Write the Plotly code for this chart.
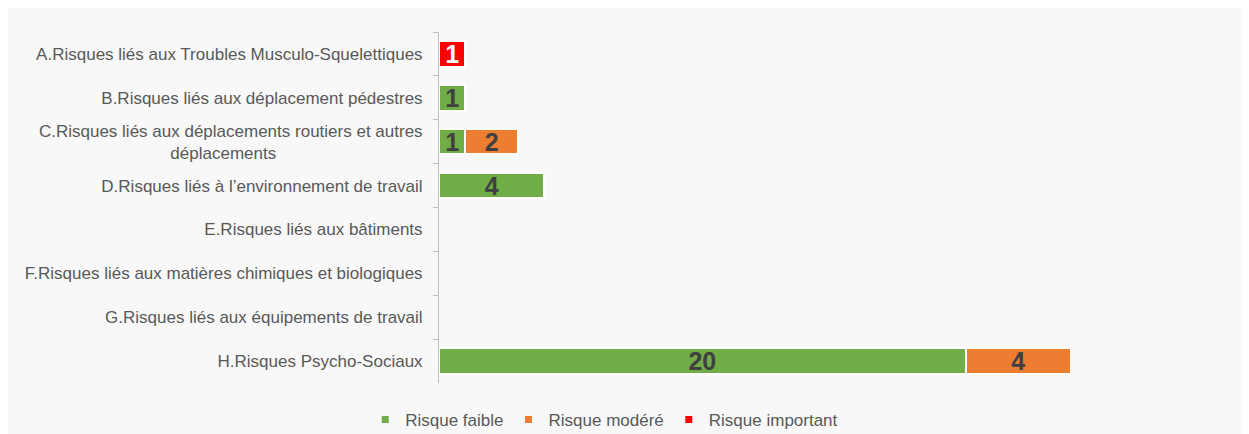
import plotly.graph_objects as go

NBSP = "\u00a0"
categories = [
    "A.Risques liés aux Troubles Musculo-Squelettiques",
    "B.Risques liés aux déplacement pédestres",
    "C.Risques liés aux déplacements routiers et autres<br>déplacements" + NBSP * 31,
    "D.Risques liés à l’environnement de travail",
    "E.Risques liés aux bâtiments",
    "F.Risques liés aux matières chimiques et biologiques",
    "G.Risques liés aux équipements de travail",
    "H.Risques Psycho-Sociaux",
]
series_names = ["Risque faible", "Risque modéré", "Risque important"]
faible = [None, 1, 1, 4, None, None, None, 20]
modere = [None, None, 2, None, None, None, None, 4]
important = [1, None, None, None, None, None, None, None]
colors = ["#70AD47", "#ED7D31", "#FF0000"]
text_colors = ["#404040", "#404040", "#FFFFFF"]

# figure sits at page offset (8, 8) because of the default body margin
W, H = 1237, 426
L, R, T, B = 431, 174, 24, 51
FONT = "Liberation Sans, Arial, sans-serif"

fig = go.Figure()
for name, vals, c, tc in zip(series_names, [faible, modere, important], colors, text_colors):
    fig.add_trace(go.Bar(
        y=categories, x=vals, name=name, orientation="h",
        marker=dict(color=c, line=dict(color="white", width=2)),
        text=[("" if v is None else str(v)) for v in vals],
        textposition="inside", insidetextanchor="middle",
        constraintext="none", textangle=0,
        textfont=dict(family=FONT, size=25, color=tc, weight="bold"),
        showlegend=False,
    ))
# legend entries with small square symbols
for name, c in zip(series_names, colors):
    fig.add_trace(go.Scatter(
        x=[None], y=[None], mode="markers", name=name,
        marker=dict(symbol="square", size=7, color=c),
        showlegend=True,
    ))

fig.update_layout(
    barmode="stack",
    bargap=0.42,
    width=W, height=H,
    margin=dict(l=L, r=R, t=T, b=B),
    paper_bgcolor="#F8F8F8",
    plot_bgcolor="rgba(0,0,0,0)",
    font=dict(family=FONT, size=17, color="#595959"),
    xaxis=dict(range=[0, 24], visible=False, fixedrange=True),
    yaxis=dict(
        autorange="reversed", type="category",
        showline=True, linecolor="#BFBFBF", linewidth=1,
        ticks="outside", tickson="boundaries", ticklen=5, tickcolor="#BFBFBF",
        ticklabelstandoff=12,
        tickfont=dict(size=17, color="#595959"),
        showgrid=False, zeroline=False,
    ),
    legend=dict(
        orientation="h", xref="container", x=0.482, xanchor="center",
        yref="container", y=(H - 412) / H, yanchor="middle",
        font=dict(size=17, color="#595959"), bgcolor="rgba(0,0,0,0)",
        itemwidth=30, traceorder="normal",
    ),
    showlegend=True,
)

fig.write_html("out.html")
